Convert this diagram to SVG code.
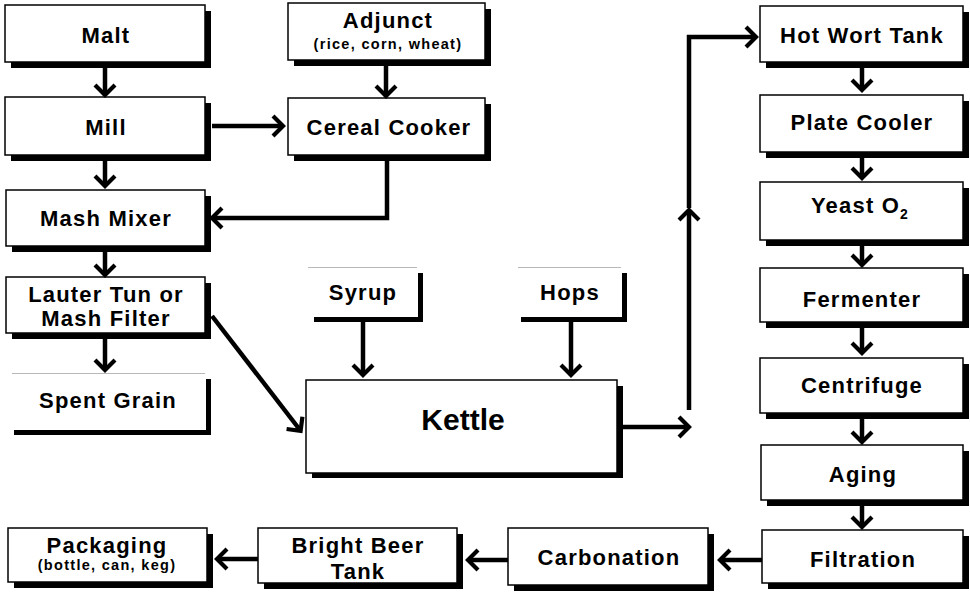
<svg xmlns="http://www.w3.org/2000/svg" width="970" height="595" viewBox="0 0 970 595">
  <style>
    .shadow { fill: #000; }
    .box { fill: #fff; stroke: #000; stroke-width: 1.5; }
    .faded { fill: #fff; stroke: none; }
    .fadedge { stroke: #b8b8b8; stroke-width: 1.2; fill: none; }
    .lbl { font-family: "Liberation Sans", Arial, sans-serif; font-weight: bold; font-size: 22px; letter-spacing: 1.2px; text-anchor: middle; fill: #000; }
    .sub { font-family: "Liberation Sans", Arial, sans-serif; font-weight: bold; font-size: 14.5px; letter-spacing: 1.3px; text-anchor: middle; fill: #000; }
    .big { font-family: "Liberation Sans", Arial, sans-serif; font-weight: bold; font-size: 30px; text-anchor: middle; fill: #000; }
    .conn { fill: none; stroke: #000; stroke-width: 4.5; stroke-linejoin: miter; }
  </style>
  <defs>
    <marker id="head" markerUnits="userSpaceOnUse" orient="auto" refX="-1" refY="0" markerWidth="1" markerHeight="1" overflow="visible">
      <path d="M-10,-10 L0,0 L-10,10" fill="none" stroke="#000" stroke-width="4.2"/>
    </marker>
  </defs>
  <rect width="970" height="595" fill="#fff"/>

  <!-- left column -->
  <g id="malt">
    <rect class="shadow" x="11" y="11" width="200" height="57"/>
    <rect class="box" x="5" y="5" width="200" height="57"/>
    <text class="lbl" x="106" y="43">Malt</text>
  </g>
  <g id="mill">
    <rect class="shadow" x="11" y="103" width="200" height="58"/>
    <rect class="box" x="5" y="97" width="200" height="58"/>
    <text class="lbl" x="106" y="135">Mill</text>
  </g>
  <g id="mash-mixer">
    <rect class="shadow" x="12" y="196" width="199" height="56"/>
    <rect class="box" x="6" y="190" width="199" height="56"/>
    <text class="lbl" x="106" y="226">Mash Mixer</text>
  </g>
  <g id="lauter-tun">
    <rect class="shadow" x="12" y="283" width="199" height="56"/>
    <rect class="box" x="6" y="277" width="199" height="56"/>
    <text class="lbl" x="106" y="302">Lauter Tun or</text>
    <text class="lbl" x="106" y="326">Mash Filter</text>
  </g>
  <g id="spent-grain">
    <rect class="shadow" x="14" y="379" width="197" height="56"/>
    <rect class="faded" x="8" y="373" width="198" height="57"/>
    <path class="fadedge" d="M12,373.5 H205"/>
    <text class="lbl" x="108" y="408">Spent Grain</text>
  </g>

  <!-- adjunct branch -->
  <g id="adjunct">
    <rect class="shadow" x="294" y="9" width="197" height="57"/>
    <rect class="box" x="288" y="3" width="197" height="57"/>
    <text class="lbl" x="388" y="28">Adjunct</text>
    <text class="sub" x="388" y="49">(rice, corn, wheat)</text>
  </g>
  <g id="cereal-cooker">
    <rect class="shadow" x="294" y="104" width="197" height="57"/>
    <rect class="box" x="288" y="98" width="197" height="57"/>
    <text class="lbl" x="389" y="135">Cereal Cooker</text>
  </g>

  <!-- kettle and its additions -->
  <g id="syrup">
    <rect class="shadow" x="314" y="273" width="109" height="49"/>
    <rect class="faded" x="308" y="267" width="110" height="50"/>
    <path class="fadedge" d="M308,267.5 H417"/>
    <text class="lbl" x="363" y="300">Syrup</text>
  </g>
  <g id="hops">
    <rect class="shadow" x="521" y="273" width="106" height="49"/>
    <rect class="faded" x="518" y="267" width="104" height="50"/>
    <path class="fadedge" d="M518,267.5 H621"/>
    <text class="lbl" x="570" y="300">Hops</text>
  </g>
  <g id="kettle">
    <rect class="shadow" x="312" y="386" width="311" height="92"/>
    <rect class="box" x="306" y="380" width="311" height="93"/>
    <text class="big" x="463" y="430">Kettle</text>
  </g>

  <!-- right column -->
  <g id="hot-wort-tank">
    <rect class="shadow" x="766" y="12" width="203" height="56"/>
    <rect class="box" x="760" y="6" width="203" height="56"/>
    <text class="lbl" x="862" y="43">Hot Wort Tank</text>
  </g>
  <g id="plate-cooler">
    <rect class="shadow" x="766" y="101" width="203" height="57"/>
    <rect class="box" x="760" y="95" width="203" height="57"/>
    <text class="lbl" x="862" y="130">Plate Cooler</text>
  </g>
  <g id="yeast-o2">
    <rect class="shadow" x="766" y="188" width="203" height="58"/>
    <rect class="box" x="760" y="182" width="203" height="58"/>
    <text class="lbl" x="860" y="213">Yeast O<tspan font-size="14" dy="6">2</tspan></text>
  </g>
  <g id="fermenter">
    <rect class="shadow" x="766" y="274" width="203" height="54"/>
    <rect class="box" x="760" y="268" width="203" height="54"/>
    <text class="lbl" x="862" y="307">Fermenter</text>
  </g>
  <g id="centrifuge">
    <rect class="shadow" x="766" y="364" width="203" height="55"/>
    <rect class="box" x="760" y="358" width="203" height="55"/>
    <text class="lbl" x="862" y="393">Centrifuge</text>
  </g>
  <g id="aging">
    <rect class="shadow" x="767" y="451" width="202" height="55"/>
    <rect class="box" x="761" y="445" width="202" height="55"/>
    <text class="lbl" x="863" y="482">Aging</text>
  </g>
  <g id="filtration">
    <rect class="shadow" x="768" y="536" width="201" height="53"/>
    <rect class="box" x="762" y="530" width="201" height="53"/>
    <text class="lbl" x="863" y="567">Filtration</text>
  </g>

  <!-- bottom row -->
  <g id="carbonation">
    <rect class="shadow" x="514" y="534" width="200" height="57"/>
    <rect class="box" x="508" y="528" width="200" height="57"/>
    <text class="lbl" x="609" y="565">Carbonation</text>
  </g>
  <g id="bright-beer-tank">
    <rect class="shadow" x="264" y="534" width="199" height="55"/>
    <rect class="box" x="258" y="528" width="199" height="55"/>
    <text class="lbl" x="358" y="553">Bright Beer</text>
    <text class="lbl" x="358" y="579">Tank</text>
  </g>
  <g id="packaging">
    <rect class="shadow" x="14" y="534" width="199" height="54"/>
    <rect class="box" x="8" y="528" width="199" height="54"/>
    <text class="lbl" x="107" y="553">Packaging</text>
    <text class="sub" x="107" y="570">(bottle, can, keg)</text>
  </g>

  <!-- connectors -->
  <g id="connectors">
    <path class="conn" d="M105,68 V94" marker-end="url(#head)"/>
    <path class="conn" d="M212,126 H282" marker-end="url(#head)"/>
    <path class="conn" d="M386,66 V95" marker-end="url(#head)"/>
    <path class="conn" d="M387,161 V218 H213" marker-end="url(#head)"/>
    <path class="conn" d="M105,161 V185" marker-end="url(#head)"/>
    <path class="conn" d="M105,252 V274" marker-end="url(#head)"/>
    <path class="conn" d="M105,339 V369" marker-end="url(#head)"/>
    <path class="conn" d="M212,316 L300,430" marker-end="url(#head)"/>
    <path class="conn" d="M363,322 V374" marker-end="url(#head)"/>
    <path class="conn" d="M571,322 V374" marker-end="url(#head)"/>
    <path class="conn" d="M623,427 H688" marker-end="url(#head)"/>
    <path class="conn" d="M689,410 V211" marker-end="url(#head)"/>
    <path class="conn" d="M689,208 V37 H755" marker-end="url(#head)"/>
    <path class="conn" d="M862,68 V89" marker-end="url(#head)"/>
    <path class="conn" d="M862,158 V177" marker-end="url(#head)"/>
    <path class="conn" d="M862,246 V264" marker-end="url(#head)"/>
    <path class="conn" d="M862,328 V352" marker-end="url(#head)"/>
    <path class="conn" d="M862,419 V441" marker-end="url(#head)"/>
    <path class="conn" d="M862,506 V526" marker-end="url(#head)"/>
    <path class="conn" d="M762,560 H721" marker-end="url(#head)"/>
    <path class="conn" d="M508,560 H469" marker-end="url(#head)"/>
    <path class="conn" d="M258,559 H218" marker-end="url(#head)"/>
  </g>
</svg>
